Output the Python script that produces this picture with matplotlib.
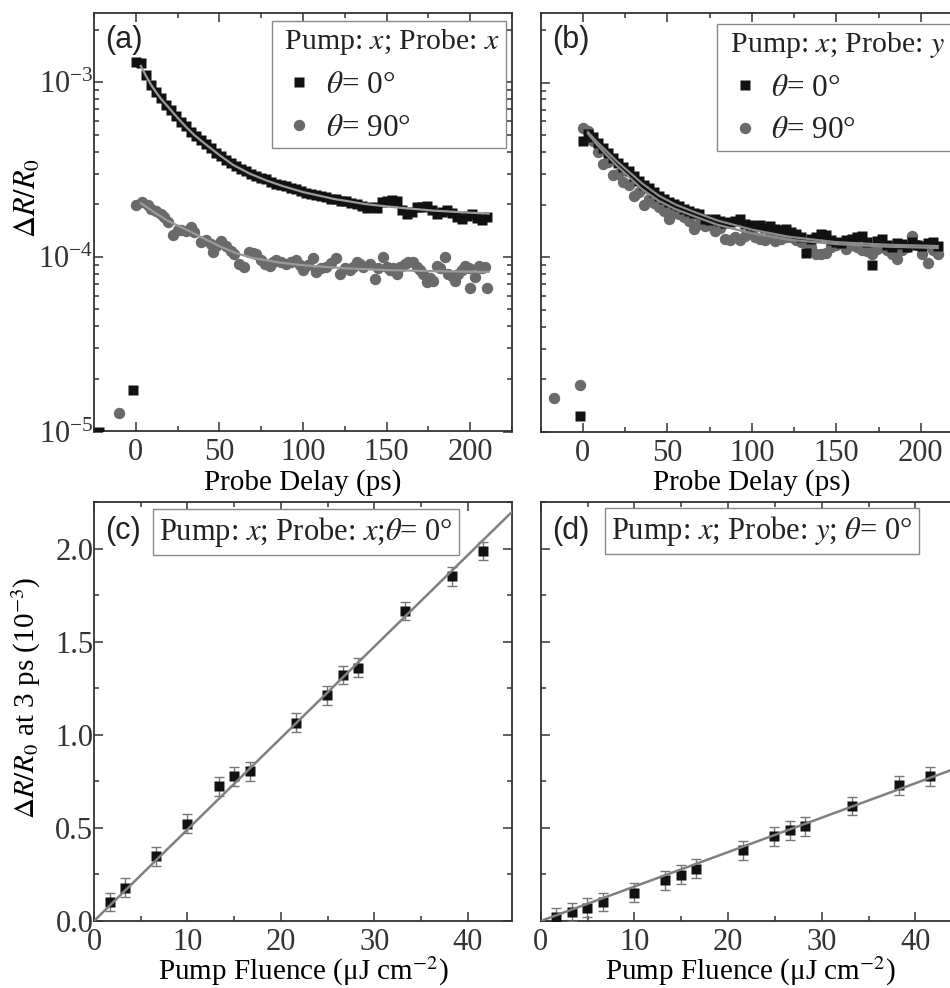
import numpy as np
import matplotlib
matplotlib.use("Agg")
import matplotlib.pyplot as plt
from matplotlib.lines import Line2D
from matplotlib.ticker import MultipleLocator, LogLocator, NullFormatter

plt.rcParams['font.family'] = ['Liberation Serif', 'DejaVu Serif']
plt.rcParams['mathtext.fontset'] = 'stix'
plt.rcParams['axes.edgecolor'] = '#333333'
plt.rcParams['xtick.color'] = '#333333'
plt.rcParams['ytick.color'] = '#333333'
plt.rcParams['text.color'] = '#222222'

# ---------------- datos (ΔR/R0 en unidades de 1e-4) ----------------
delay = [0, 3, 6, 9, 12, 15, 18, 21, 24, 27, 30, 33, 36, 39, 42, 45, 48, 51, 54, 57,
         60, 63, 66, 69, 72, 75, 78, 81, 84, 87, 90, 93, 96, 99, 102, 105, 108, 111,
         114, 117, 120, 123, 126, 129, 132, 135, 138, 141, 144, 147, 150, 153, 156,
         159, 162, 165, 168, 171, 174, 177, 180, 183, 186, 189, 192, 195, 198, 201,
         204, 207, 210]

# (a) pump x, probe x, theta = 0
a0_pre_t = [-22.2, -1.6]
a0_pre_v = [0.10, 0.172]
a0_v = [13.1, 12.8, 11.0, 9.7, 8.8, 8.1, 7.4, 6.95, 6.4, 5.95, 5.6, 5.2, 4.95, 4.65,
        4.45, 4.2, 3.95, 3.8, 3.6, 3.45, 3.3, 3.2, 3.1, 2.98, 2.92, 2.82, 2.78, 2.70,
        2.62, 2.58, 2.55, 2.47, 2.44, 2.38, 2.33, 2.30, 2.26, 2.22, 2.20, 2.15, 2.14,
        2.10, 2.08, 2.03, 2.02, 1.95, 1.90, 1.92, 1.90, 2.05, 2.10, 2.12, 2.10, 1.85,
        1.75, 1.80, 1.92, 1.93, 1.95, 1.85, 1.76, 1.80, 1.85, 1.78, 1.68, 1.65, 1.72,
        1.77, 1.66, 1.62, 1.68]

# (a) pump x, probe x, theta = 90
a90_pre_t = [-9.9]
a90_pre_v = [0.128]
a90_t = [0, 4, 7, 9, 12, 15, 17, 19, 22, 25, 27, 30, 33, 35, 39, 42, 45, 46, 48, 51,
         54, 57, 59, 62, 65, 68, 70, 72, 75, 77, 80, 82, 84, 87, 90, 93, 96, 98, 100,
         103, 106, 108, 111, 114, 117, 120, 122, 125, 128, 130, 132, 134, 136, 140,
         143, 145, 148, 150, 152, 154, 156, 158, 161, 163, 166, 168, 170, 172, 174,
         176, 178, 180, 182, 185, 187, 189, 191, 193, 195, 197, 199, 200, 203, 205,
         207, 209, 210]
a90_v = [1.97, 2.06, 1.98, 1.89, 1.82, 1.77, 1.70, 1.58, 1.33, 1.42, 1.42, 1.40, 1.48,
         1.38, 1.22, 1.25, 1.19, 1.07, 1.15, 1.24, 1.15, 1.08, 1.04, 0.91, 0.88, 1.07,
         1.05, 1.04, 0.96, 0.91, 0.89, 0.93, 0.96, 0.93, 0.91, 0.93, 0.96, 0.90, 0.84,
         0.90, 0.98, 0.82, 0.86, 0.88, 0.92, 0.98, 0.80, 0.86, 0.84, 0.88, 0.93, 0.91,
         0.88, 0.91, 0.75, 0.86, 1.00, 0.88, 0.84, 0.86, 0.80, 0.88, 0.91, 0.93, 0.93,
         0.88, 0.84, 0.80, 0.72, 0.76, 0.73, 0.89, 0.86, 1.00, 0.80, 0.78, 0.73, 0.80,
         0.84, 0.89, 0.86, 0.66, 0.77, 0.89, 0.86, 0.88, 0.66]

# curvas de ajuste
fit_t_a0 = [3, 6, 9, 12, 15, 20, 25, 30, 35, 40, 45, 50, 58, 68, 78, 88, 100, 118, 138,
            158, 178, 200, 211]
fit_v_a0 = [12.4, 10.9, 9.7, 8.8, 8.05, 7.1, 6.25, 5.55, 4.98, 4.55, 4.17, 3.83, 3.37,
            3.0, 2.74, 2.54, 2.35, 2.15, 2.0, 1.91, 1.84, 1.79, 1.77]
fit_t_a90 = [3, 11, 19, 31, 41, 51, 60, 70, 85, 100, 125, 150, 180, 211]
fit_v_a90 = [2.03, 1.80, 1.61, 1.42, 1.27, 1.14, 1.05, 0.985, 0.93, 0.895, 0.86, 0.84,
             0.827, 0.82]

# (b) pump x, probe y
b0_pre_t = [-1.6]
b0_pre_v = [0.1235]
b0_v = [4.6, 5.1, 4.85, 4.5, 4.2, 3.95, 3.7, 3.45, 3.28, 3.1, 2.92, 2.75, 2.6, 2.48,
        2.36, 2.25, 2.16, 2.08, 2.02, 1.96, 1.90, 1.84, 1.80, 1.76, 1.66, 1.64, 1.66,
        1.62, 1.58, 1.60, 1.62, 1.65, 1.55, 1.52, 1.50, 1.52, 1.48, 1.50, 1.45, 1.44,
        1.45, 1.40, 1.35, 1.30, 1.06, 1.28, 1.30, 1.36, 1.34, 1.25, 1.22, 1.20, 1.25,
        1.28, 1.30, 1.33, 1.22, 0.90, 1.24, 1.28, 1.18, 1.15, 1.20, 1.19, 1.15, 1.22,
        1.18, 1.16, 1.20, 1.22, 1.16]
b90_pre_t = [-17.4, -1.6]
b90_pre_v = [0.156, 0.186]
b90_v = [5.5, 5.3, 4.6, 4.0, 3.4, 3.5, 2.95, 3.0, 2.7, 2.6, 2.25, 2.35, 2.0, 2.15,
         2.05, 1.95, 1.85, 1.65, 1.80, 1.78, 1.70, 1.62, 1.45, 1.55, 1.50, 1.52, 1.42,
         1.48, 1.28, 1.25, 1.30, 1.25, 1.32, 1.38, 1.30, 1.28, 1.26, 1.32, 1.24, 1.28,
         1.30, 1.30, 1.26, 1.22, 1.20, 1.15, 1.04, 1.04, 1.06, 1.15, 1.18, 1.20, 1.12,
         1.18, 1.15, 1.10, 1.08, 1.04, 1.12, 1.15, 1.10, 1.05, 0.98, 1.10, 1.15, 1.33,
         1.18, 1.05, 0.93, 1.10, 1.04]
fit_t_b = [3, 8, 14, 20, 27, 35, 45, 55, 67, 80, 100, 122, 150, 180, 210]
fit_v_b0 = [5.2, 4.6, 4.05, 3.55, 3.1, 2.65, 2.25, 2.0, 1.80, 1.62, 1.44, 1.31, 1.22,
            1.18, 1.16]
fit_v_b90 = [5.1, 4.45, 3.85, 3.35, 2.9, 2.45, 2.1, 1.88, 1.70, 1.53, 1.37, 1.26, 1.19,
             1.15, 1.13]

# (c) y (d): dependencia con la fluencia (ΔR/R0 a 3 ps, 1e-3)
flu_c = [1.68, 3.36, 6.68, 10.0, 13.35, 15.03, 16.7, 21.67, 24.98, 26.66, 28.3, 33.34,
         38.33, 41.65]
sig_c = [0.102, 0.179, 0.347, 0.523, 0.723, 0.777, 0.804, 1.065, 1.212, 1.32, 1.361,
         1.665, 1.851, 1.987]
err_c = [0.05] * len(flu_c)
slope_c = 0.0491

flu_d = [1.63, 3.31, 4.99, 6.62, 9.97, 13.28, 14.95, 16.6, 21.58, 24.9, 26.6, 28.2,
         33.2, 38.2, 41.5]
sig_d = [0.02, 0.048, 0.072, 0.102, 0.152, 0.218, 0.249, 0.281, 0.38, 0.455, 0.487,
         0.509, 0.618, 0.729, 0.777]
err_d = [0.05] * len(flu_d)
slope_d = 0.0185

# ---------------- figura ----------------
W, H = 950, 988
fig = plt.figure(figsize=(W / 100, H / 100), dpi=100)


def caja(x0, y0, x1, y1):
    return [x0 / W, 1 - y1 / H, (x1 - x0) / W, (y1 - y0) / H]


ax_a = fig.add_axes(caja(94, 12.7, 512, 431.5))
ax_b = fig.add_axes(caja(540.7, 13, 963, 432))
ax_c = fig.add_axes(caja(94, 502, 512, 921))
ax_d = fig.add_axes(caja(540.7, 502, 960, 921))

NEGRO = '#111111'
GRIS = '#6a6a6a'
AJUSTE = '#9a9a9a'
e4 = 1e-4
TAM_TICK = 22


def estilo(ax):
    ax.tick_params(which='both', direction='in', top=True, right=True,
                   labelsize=TAM_TICK, width=1.1)
    ax.tick_params(which='major', length=6.5)
    ax.tick_params(which='minor', length=3.6)
    ax.tick_params(axis='y', pad=0.5)
    ax.tick_params(axis='x', pad=5)
    for s in ax.spines.values():
        s.set_linewidth(1.3)


for ax in (ax_a, ax_b):
    ax.set_yscale('log')
    ax.set_xlim(-25, 225)
    ax.set_ylim(1e-5, 2.5e-3)
    ax.xaxis.set_major_locator(MultipleLocator(50))
    ax.xaxis.set_minor_locator(MultipleLocator(25))
    ax.yaxis.set_major_locator(LogLocator(base=10, numticks=10))
    ax.yaxis.set_minor_locator(LogLocator(base=10, subs=np.arange(2, 10), numticks=10))
    ax.yaxis.set_minor_formatter(NullFormatter())
    ax.set_xlabel('Probe Delay (ps)', fontsize=21, labelpad=1)
    estilo(ax)

# panel (a)
ax_a.plot(a0_pre_t + delay, np.array(a0_pre_v + a0_v) * e4, 's', ms=7.3, color=NEGRO,
          mec='none', zorder=3)
ax_a.plot(a90_pre_t + a90_t, np.array(a90_pre_v + a90_v) * e4, 'o', ms=8.2, color=GRIS,
          mec='none', zorder=3)
ax_a.plot(fit_t_a0, np.array(fit_v_a0) * e4, '-', color=AJUSTE, lw=1.6, zorder=4)
ax_a.plot(fit_t_a90, np.array(fit_v_a90) * e4, '-', color=AJUSTE, lw=1.6, zorder=4)
ax_a.set_ylabel(r'$\Delta R/R_0$', fontsize=22)
ax_a.yaxis.set_label_coords(-0.122, 0.557)

# panel (b)
ax_b.plot(b0_pre_t + delay, np.array(b0_pre_v + b0_v) * e4, 's', ms=7.3, color=NEGRO,
          mec='none', zorder=3)
ax_b.plot(b90_pre_t + delay, np.array(b90_pre_v + b90_v) * e4, 'o', ms=8.2, color=GRIS,
          mec='none', zorder=2)
ax_b.plot(fit_t_b, np.array(fit_v_b0) * e4, '-', color='#8a8a8a', lw=1.6, zorder=4)
ax_b.plot(fit_t_b, np.array(fit_v_b90) * e4, '-', color='#8a8a8a', lw=1.6, zorder=4)
ax_b.tick_params(axis='y', labelleft=False)

manijas = [Line2D([], [], ls='none', marker='s', ms=7.3, color=NEGRO, mec='none'),
           Line2D([], [], ls='none', marker='o', ms=8.2, color=GRIS, mec='none')]
etiquetas = [r'$\theta$= 0°', r'$\theta$= 90°']
for ax, titulo, xa, ya in ((ax_a, ' Pump: $x$; Probe: $x$ ', 0.985, 0.979),
                           (ax_b, ' Pump: $x$; Probe: $y$ ', 0.972, 0.973)):
    leg = ax.legend(manijas, etiquetas, title=titulo, loc='upper right',
                    bbox_to_anchor=(xa, ya), borderaxespad=0, fontsize=22.5,
                    title_fontsize=21.5, frameon=True, fancybox=False,
                    edgecolor='#888888', framealpha=1, handlelength=1.4,
                    handletextpad=0.15, labelspacing=0.44, borderpad=0.18,
                    alignment='left')
    leg.get_frame().set_linewidth(1.0)

ax_a.text(0.026, 0.935, '(a)', transform=ax_a.transAxes, family='Liberation Sans',
          fontsize=22, va='center', ha='left')
ax_b.text(0.027, 0.935, '(b)', transform=ax_b.transAxes, family='Liberation Sans',
          fontsize=22, va='center', ha='left')

# paneles (c) y (d)
for ax in (ax_c, ax_d):
    ax.set_xlim(0, 44.75)
    ax.set_ylim(0, 2.25)
    ax.xaxis.set_major_locator(MultipleLocator(10))
    ax.xaxis.set_minor_locator(MultipleLocator(5))
    ax.yaxis.set_major_locator(MultipleLocator(0.5))
    ax.yaxis.set_minor_locator(MultipleLocator(0.25))
    ax.set_xlabel('Pump Fluence (μJ cm$^{-2}$)', fontsize=21, labelpad=-2)
    estilo(ax)

ax_c.yaxis.set_major_formatter(plt.FuncFormatter(lambda v, p: f'{v:.1f}'))
ax_c.errorbar(flu_c, sig_c, yerr=err_c, fmt='s', ms=7.5, color=NEGRO, mec='none',
              ecolor='#777777', elinewidth=1.0, capsize=3.5, capthick=1.0, zorder=3)
ax_c.axline((0, 0), slope=slope_c, color='#808080', lw=1.8, zorder=4)
ax_c.set_ylabel(r'$\Delta R/R_0$ at 3 ps (10$^{-3}$)', fontsize=21)
ax_c.yaxis.set_label_coords(-0.122, 0.532)

ax_d.errorbar(flu_d, sig_d, yerr=err_d, fmt='s', ms=7.5, color=NEGRO, mec='none',
              ecolor='#777777', elinewidth=1.0, capsize=3.5, capthick=1.0, zorder=3)
ax_d.axline((0, 0), slope=slope_d, color='#808080', lw=1.8, zorder=4)
ax_d.tick_params(axis='y', labelleft=False)

caja_txt = dict(boxstyle='square,pad=0.2', fc='white', ec='#888888', lw=1.0)
ax_c.text(0.026, 0.93, '(c)', transform=ax_c.transAxes, family='Liberation Sans',
          fontsize=22, va='center', ha='left')
ax_c.text(0.155, 0.929, r'Pump: $x$; Probe: $x$;$\theta$= 0°', transform=ax_c.transAxes,
          fontsize=22, va='center', ha='left', bbox=caja_txt)
ax_d.text(0.027, 0.93, '(d)', transform=ax_d.transAxes, family='Liberation Sans',
          fontsize=22, va='center', ha='left')
ax_d.text(0.168, 0.93, r'Pump: $x$; Probe: $y$; $\theta$= 0°', transform=ax_d.transAxes,
          fontsize=22, va='center', ha='left', bbox=caja_txt)

fig.savefig('out.png', dpi=100)
